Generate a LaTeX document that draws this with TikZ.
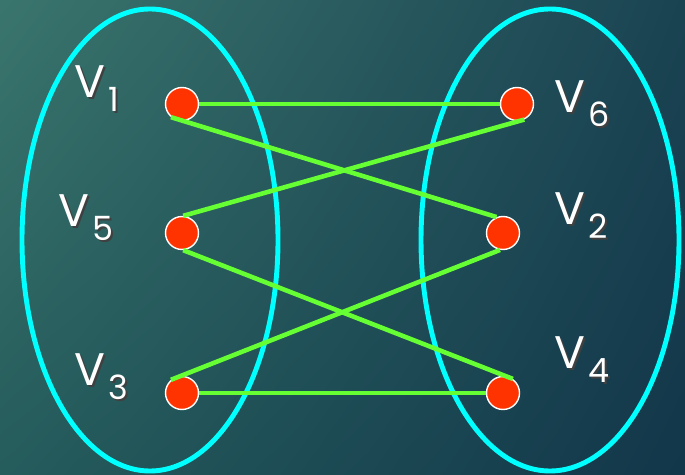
\documentclass[tikz,border=0pt]{standalone}
\usepackage{fontspec}
\setmainfont{Poppins}
\usetikzlibrary{shadings}
\definecolor{bgtl}{HTML}{3A756D}
\definecolor{bgtr}{HTML}{1A4352}
\definecolor{bgbl}{HTML}{255C5C}
\definecolor{bgbr}{HTML}{12364A}
\definecolor{vred}{HTML}{FF3300}
\definecolor{egreen}{HTML}{66FF33}
\definecolor{setcyan}{HTML}{00FFFF}
\newcommand{\vtxt}[1]{V\kern1.8pt\raisebox{-7.6pt}{\fontsize{19}{19}\selectfont #1}}
\newcommand{\vlab}[1]{\makebox[0pt][l]{\kern1.1pt\raisebox{-1.1pt}{\color{black!75}\vtxt{#1}}}\vtxt{#1}}

\begin{document}
\begin{tikzpicture}[x=0.02cm,y=-0.02cm,
    vertex/.style={circle,draw=white,line width=0.8pt,fill=vred,minimum size=0.66cm,inner sep=0pt},
    edge/.style={egreen,line width=2.6pt},
    setring/.style={setcyan,line width=2.8pt},
    vname/.style={text=white,font=\fontsize{26}{26}\selectfont,inner sep=0pt,anchor=base west}]
  % background
  \shade[upper left=bgtl,upper right=bgtr,lower left=bgbl,lower right=bgbr]
    (0,0) rectangle (685,475);
  \useasboundingbox (0,0) rectangle (685,475);

  % the two parts
  \draw[setring] (150,240) ellipse [x radius=128,y radius=-231];
  \draw[setring] (550,240) ellipse [x radius=129,y radius=-231];

  % vertices
  \node[vertex] (v1) at (182,104) {};
  \node[vertex] (v5) at (182,233) {};
  \node[vertex] (v3) at (182,393) {};
  \node[vertex] (v6) at (517,104) {};
  \node[vertex] (v2) at (503,233) {};
  \node[vertex] (v4) at (503,393) {};

  % edges
  \draw[edge] (v1.east) -- (v6.west);
  \draw[edge] (v1.-130) -- (v2.112);
  \draw[edge] (v6.-65) -- (v5.86);
  \draw[edge] (v5.-86) -- (v4.55);
  \draw[edge] (v2.-100) -- (v3.130);
  \draw[edge] (v3.east) -- (v4.west);

  % labels
  \node[vname] (l1) at (74,98) {\vlab{1}};
  \node[vname] (l5) at (58,227) {\vlab{5}};
  \node[vname] (l3) at (74,386) {\vlab{3}};
  \node[vname] (l6) at (554,113) {\vlab{6}};
  \node[vname] (l2) at (554,225) {\vlab{2}};
  \node[vname] (l4) at (554,369) {\vlab{4}};
\end{tikzpicture}
\end{document}
